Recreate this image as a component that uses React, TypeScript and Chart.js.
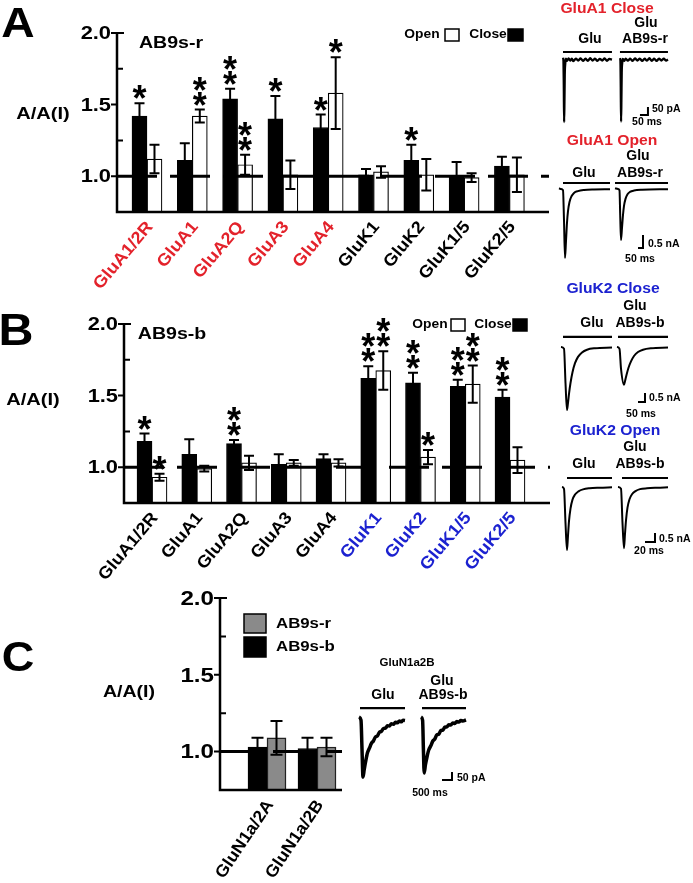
import React, { useEffect, useRef } from 'react';
import { Chart, registerables } from 'chart.js';

Chart.register(...registerables);

const PAGE_W = 693;
const PAGE_H = 883;
const FONT = '"Liberation Sans", Arial, Helvetica, sans-serif';
const RED = '#e3222b';
const BLUE = '#1c22d0';

// ---------------- data ----------------
const RECEPTORS = ['GluA1/2R', 'GluA1', 'GluA2Q', 'GluA3', 'GluA4', 'GluK1', 'GluK2', 'GluK1/5', 'GluK2/5'];
const Y_TICK_VALUES = [1.0, 1.5, 2.0];
const Y_TICK_LABELS = ['1.0', '1.5', '2.0'];
const Y_MINOR_TICKS = [1.25, 1.75];

// Panel A : AB9s-r
const A_CLOSE = [1.42, 1.11, 1.54, 1.40, 1.34, 1.01, 1.11, 1.00, 1.07];
const A_CLOSE_SEM = [0.09, 0.12, 0.07, 0.16, 0.09, 0.04, 0.11, 0.10, 0.065];
const A_CLOSE_STARS = [1, 0, 2, 1, 1, 0, 1, 0, 0];
const A_OPEN = [1.12, 1.42, 1.08, 1.01, 1.58, 1.03, 1.01, 0.99, 1.01];
const A_OPEN_SEM = [0.10, 0.045, 0.07, 0.10, 0.25, 0.04, 0.11, 0.03, 0.12];
const A_OPEN_STARS = [0, 2, 2, 0, 1, 0, 0, 0, 0];

// Panel B : AB9s-b
const B_CLOSE = [1.18, 1.09, 1.165, 1.02, 1.06, 1.62, 1.59, 1.565, 1.49];
const B_CLOSE_SEM = [0.055, 0.105, 0.025, 0.07, 0.03, 0.085, 0.07, 0.045, 0.05];
const B_CLOSE_STARS = [1, 0, 2, 0, 0, 2, 2, 2, 2];
const B_OPEN = [0.93, 0.99, 1.03, 1.03, 1.03, 1.675, 1.07, 1.58, 1.05];
const B_OPEN_SEM = [0.025, 0.02, 0.05, 0.02, 0.025, 0.135, 0.05, 0.13, 0.09];
const B_OPEN_STARS = [1, 0, 0, 0, 0, 2, 1, 2, 0];

// Panel C : NMDA receptors
const C_RECEPTORS = ['GluN1a/2A', 'GluN1a/2B'];
const C_AB9S_B = [1.03, 1.02];
const C_AB9S_B_SEM = [0.06, 0.07];
const C_AB9S_R = [1.09, 1.03];
const C_AB9S_R_SEM = [0.11, 0.06];

// ---------------- current traces (time ms, current) ----------------
// GluA1 Close (pA)
const TR_A1C_GLU = [[0, 14], [3, -8], [5, -160], [7, -388], [9, -260], [11, -90], [14, -25], [18, 8], [25, -6], [35, 10], [45, -4], [55, 8], [65, -7], [80, 9], [95, -3], [110, 10], [125, -6], [140, 8], [155, -5], [170, 11], [185, -4], [200, 9], [215, -6], [230, 7], [245, -3], [260, 10], [275, -5], [290, 7], [306, 2]];
const TR_A1C_AB9S = [[356, 12], [359, -6], [361, -170], [363, -385], [365, -250], [367, -80], [370, -20], [374, 7], [382, -6], [392, 9], [405, -4], [420, 8], [435, -6], [450, 10], [465, -3], [480, 9], [495, -6], [510, 8], [525, -4], [540, 11], [555, -5], [570, 8], [585, -6], [600, 9], [615, -3], [630, 8], [645, -4], [656, 3]];
const STIM_A1C = [[[0, 50], [306, 50]], [[356, 50], [656, 50]]];
const SCALE_A1C = [[481, -344], [531, -344], [531, -294]];

// GluA1 Open (nA)
const TR_A1O_GLU = [[-30, 0.03], [-10, 0.0], [10, -0.05], [20, -1.2], [30, -2.65], [40, -2.0], [50, -1.3], [60, -0.85], [75, -0.5], [95, -0.28], [120, -0.15], [160, -0.08], [220, -0.04], [320, -0.02], [480, -0.01]];
const TR_A1O_AB9S = [[530, 0.03], [560, 0.0], [575, -0.05], [582, -1.0], [590, -1.96], [600, -1.5], [610, -1.0], [620, -0.65], [635, -0.38], [655, -0.2], [680, -0.11], [720, -0.06], [800, -0.03], [1060, -0.01]];
const STIM_A1O = [[[10, 0.23], [480, 0.23]], [[530, 0.23], [1060, 0.23]]];
const SCALE_A1O = [[760, -2.27], [810, -2.27], [810, -1.77]];

// GluK2 Close (nA)
const TR_K2C_GLU = [[-20, 0.0], [10, -0.1], [25, -2.0], [40, -3.5], [50, -3.1], [60, -2.6], [75, -2.0], [95, -1.4], [120, -0.9], [150, -0.55], [190, -0.3], [240, -0.15], [320, -0.07], [490, -0.03]];
const TR_K2C_AB9S = [[540, 0.0], [565, -0.1], [580, -1.2], [610, -2.1], [620, -1.9], [635, -1.55], [655, -1.15], [680, -0.8], [710, -0.5], [750, -0.28], [800, -0.15], [880, -0.07], [1050, -0.03]];
const STIM_K2C = [[[0, 0.56], [490, 0.56]], [[550, 0.56], [1050, 0.56]]];
const SCALE_K2C = [[750, -3.06], [820, -3.06], [820, -2.56]];

// GluK2 Open (nA)
const TR_K2O_GLU = [[0, 0.0], [4, -0.1], [7, -2.0], [10, -3.5], [12, -2.7], [14, -1.9], [17, -1.2], [21, -0.7], [26, -0.42], [33, -0.24], [42, -0.13], [55, -0.07], [75, -0.04], [100, -0.02]];
const TR_K2O_AB9S = [[112, 0.0], [118, -0.1], [121, -2.0], [124, -3.4], [126, -2.6], [128, -1.85], [131, -1.15], [135, -0.68], [140, -0.4], [147, -0.23], [156, -0.12], [170, -0.07], [190, -0.04], [212, -0.02]];
const STIM_K2O = [[[10, 0.5], [100, 0.5]], [[120, 0.5], [212, 0.5]]];
const SCALE_K2O = [[166, -3.06], [186, -3.06], [186, -2.56]];

// GluN1a2B (pA)
const TR_N2B_GLU = [[0, 0], [100, -20], [150, -200], [200, -375], [260, -330], [330, -280], [420, -225], [520, -195], [620, -165], [720, -150], [820, -125], [920, -118], [1020, -95], [1120, -90], [1220, -72], [1320, -70], [1420, -55], [1520, -56], [1620, -42], [1720, -46], [1820, -33], [1920, -36], [2020, -25], [2120, -30], [2200, -20], [2300, -22]];
const TR_N2B_AB9S = [[3100, 0], [3180, -20], [3220, -200], [3260, -350], [3320, -300], [3400, -250], [3490, -205], [3590, -180], [3690, -150], [3790, -138], [3890, -112], [3990, -108], [4090, -85], [4190, -82], [4290, -64], [4390, -62], [4490, -48], [4590, -50], [4690, -38], [4790, -40], [4890, -28], [4990, -32], [5090, -22], [5190, -25], [5350, -18]];
const STIM_N2B = [[[50, 56], [2300, 56]], [[3150, 56], [5350, 56]]];
const SCALE_N2B = [[4150, -394], [4650, -394], [4650, -344]];

// ---------------- drawing helpers ----------------
function stretchText(ctx: any, text: string, x: number, y: number, font: string, sx: number, align: string, color: string) {
  ctx.save();
  ctx.font = font;
  ctx.fillStyle = color;
  ctx.textAlign = align;
  ctx.textBaseline = 'middle';
  ctx.translate(x, y);
  ctx.scale(sx, 1);
  ctx.fillText(text, 0, 0);
  ctx.restore();
}

function drawStar(ctx: any, x: number, y: number) {
  ctx.save();
  ctx.font = `bold 36px ${FONT}`;
  ctx.fillStyle = '#000';
  ctx.textAlign = 'center';
  ctx.textBaseline = 'alphabetic';
  const m = ctx.measureText('*');
  const a = m.actualBoundingBoxAscent;
  const d = m.actualBoundingBoxDescent;
  ctx.fillText('*', x, y + (a - d) / 2);
  ctx.restore();
}

const panelPlugin = {
  id: 'panel',
  afterDatasetsDraw(chart: any, _args: any, o: any) {
    const { ctx, chartArea: ca } = chart;
    const xs = chart.scales.x;
    const ys = chart.scales.y;
    ctx.save();
    // dashed reference line at 1.0
    const y1 = ys.getPixelForValue(1);
    ctx.strokeStyle = '#000';
    ctx.lineWidth = 3;
    ctx.setLineDash([40, 13]);
    ctx.beginPath();
    ctx.moveTo(ca.left, y1);
    ctx.lineTo(ca.right, y1);
    ctx.stroke();
    ctx.setLineDash([]);

    // error bars and significance stars
    chart.data.datasets.forEach((ds: any, di: number) => {
      const meta = chart.getDatasetMeta(di);
      meta.data.forEach((el: any, i: number) => {
        const v = ds.data[i].y;
        const e = ds.sem[i];
        const cx = el.x;
        const top = ys.getPixelForValue(v + e);
        const bot = ys.getPixelForValue(v - e);
        ctx.strokeStyle = '#000';
        ctx.lineWidth = 2;
        ctx.beginPath();
        ctx.moveTo(cx, top);
        ctx.lineTo(cx, bot);
        ctx.moveTo(cx - o.cap / 2, top);
        ctx.lineTo(cx + o.cap / 2, top);
        ctx.moveTo(cx - o.cap / 2, bot);
        ctx.lineTo(cx + o.cap / 2, bot);
        ctx.stroke();
        const n = ds.stars ? ds.stars[i] : 0;
        for (let k = 0; k < n; k++) drawStar(ctx, cx, top - 11 - 15 * k);
      });
    });

    // axes
    ctx.strokeStyle = '#000';
    ctx.lineWidth = 2.5;
    ctx.beginPath();
    ctx.moveTo(ca.left, ca.top);
    ctx.lineTo(ca.left, ca.bottom);
    ctx.lineTo(ca.right, ca.bottom);
    ctx.stroke();
    ctx.lineWidth = 2;
    ctx.beginPath();
    Y_TICK_VALUES.forEach((t) => {
      const py = ys.getPixelForValue(t);
      ctx.moveTo(ca.left - 6, py);
      ctx.lineTo(ca.left, py);
    });
    Y_MINOR_TICKS.forEach((t) => {
      const py = ys.getPixelForValue(t);
      ctx.moveTo(ca.left, py);
      ctx.lineTo(ca.left + 6, py);
    });
    const pTop = ys.getPixelForValue(2);
    ctx.moveTo(ca.left, pTop);
    ctx.lineTo(ca.left + 7, pTop);
    ctx.stroke();

    // y tick labels
    Y_TICK_VALUES.forEach((t, i) => {
      stretchText(ctx, Y_TICK_LABELS[i], ca.left - 6, ys.getPixelForValue(t) + 1, o.tickFont, o.tickSx, 'right', '#000');
    });

    // category labels
    o.labels.forEach((lab: string, i: number) => {
      const px = xs.getPixelForValue(i);
      ctx.save();
      ctx.translate(px + o.ldx, ca.bottom + o.ldy);
      ctx.rotate((-o.angle * Math.PI) / 180);
      ctx.font = o.labelFont;
      ctx.fillStyle = o.labelColors[i];
      ctx.textAlign = 'right';
      ctx.textBaseline = 'middle';
      ctx.scale(o.labelSx, 1);
      ctx.fillText(lab, 0, 0);
      ctx.restore();
    });

    // inner title
    if (o.title) stretchText(ctx, o.title.text, o.title.x, o.title.y, o.title.font, o.title.sx, 'center', '#000');

    // legend
    o.legend.forEach((it: any) => {
      const ds = chart.data.datasets[it.ds];
      const [bx, by, bw, bh] = it.box;
      ctx.fillStyle = ds.backgroundColor;
      ctx.fillRect(bx, by, bw, bh);
      ctx.strokeStyle = '#000';
      ctx.lineWidth = 1.5;
      ctx.strokeRect(bx, by, bw, bh);
      stretchText(ctx, ds.label, it.tx, it.ty, o.legendFont, o.legendSx, it.align, '#000');
    });
    ctx.restore();
  },
};

function barConfig(p: any) {
  return {
    type: 'bar',
    data: {
      datasets: p.series.map((s: any) => ({
        label: s.label,
        data: s.values.map((y: number, i: number) => ({ x: i, y })),
        sem: s.sem,
        stars: s.stars,
        backgroundColor: s.fill,
        borderColor: s.stroke,
        borderWidth: s.bw,
        barThickness: p.barW,
      })),
    },
    options: {
      responsive: false,
      animation: false,
      events: [],
      layout: { padding: { left: p.area.left, right: PAGE_W - p.area.right, top: p.area.top, bottom: PAGE_H - p.area.bottom } },
      scales: {
        x: { type: 'linear', offset: false, min: p.xRange[0], max: p.xRange[1], display: false },
        y: { type: 'linear', min: 0.75, max: 2.0, display: false },
      },
      plugins: {
        legend: { display: false },
        tooltip: { enabled: false },
        panel: p.decor,
      },
    },
    plugins: [panelPlugin],
  };
}

const PANEL_A = {
  area: { left: 117, right: 549, top: 33, bottom: 212 },
  xRange: [-0.662, 8.874],
  barW: 15,
  series: [
    { label: 'Close', values: A_CLOSE, sem: A_CLOSE_SEM, stars: A_CLOSE_STARS, fill: '#000', stroke: '#000', bw: 1 },
    { label: 'Open', values: A_OPEN, sem: A_OPEN_SEM, stars: A_OPEN_STARS, fill: '#fff', stroke: '#000', bw: 1.2 },
  ],
  decor: {
    cap: 10,
    tickFont: `bold 19px ${FONT}`,
    tickSx: 1.15,
    labels: RECEPTORS,
    labelColors: [RED, RED, RED, RED, RED, '#000', '#000', '#000', '#000'],
    labelFont: `bold 17px ${FONT}`,
    labelSx: 1.08,
    angle: 50,
    ldx: 3,
    ldy: 12,
    title: { text: 'AB9s-r', x: 171, y: 43, font: `bold 17px ${FONT}`, sx: 1.15 },
    legendFont: `bold 12px ${FONT}`,
    legendSx: 1.15,
    legend: [
      { ds: 1, tx: 422, ty: 35, align: 'center', box: [445, 29, 14, 12] },
      { ds: 0, tx: 488, ty: 35, align: 'center', box: [508, 29, 15, 12] },
    ],
  },
};

const PANEL_B = {
  area: { left: 124, right: 550, top: 324, bottom: 503 },
  xRange: [-0.626, 8.894],
  barW: 15,
  series: [
    { label: 'Close', values: B_CLOSE, sem: B_CLOSE_SEM, stars: B_CLOSE_STARS, fill: '#000', stroke: '#000', bw: 1 },
    { label: 'Open', values: B_OPEN, sem: B_OPEN_SEM, stars: B_OPEN_STARS, fill: '#fff', stroke: '#000', bw: 1.2 },
  ],
  decor: {
    cap: 10,
    tickFont: `bold 19px ${FONT}`,
    tickSx: 1.15,
    labels: RECEPTORS,
    labelColors: ['#000', '#000', '#000', '#000', '#000', BLUE, BLUE, BLUE, BLUE],
    labelFont: `bold 17px ${FONT}`,
    labelSx: 1.08,
    angle: 50,
    ldx: 3,
    ldy: 12,
    title: { text: 'AB9s-b', x: 172, y: 334, font: `bold 17px ${FONT}`, sx: 1.15 },
    legendFont: `bold 12px ${FONT}`,
    legendSx: 1.15,
    legend: [
      { ds: 1, tx: 430, ty: 325, align: 'center', box: [451, 319, 14, 12] },
      { ds: 0, tx: 493, ty: 325, align: 'center', box: [513, 319, 14, 12] },
    ],
  },
};

const PANEL_C = {
  area: { left: 220, right: 342, top: 598, bottom: 790 },
  xRange: [-0.94, 1.5],
  barW: 19,
  series: [
    { label: 'AB9s-b', values: C_AB9S_B, sem: C_AB9S_B_SEM, stars: null, fill: '#000', stroke: '#000', bw: 1 },
    { label: 'AB9s-r', values: C_AB9S_R, sem: C_AB9S_R_SEM, stars: null, fill: '#8a8a8a', stroke: '#222', bw: 1.5 },
  ],
  decor: {
    cap: 12,
    tickFont: `bold 21px ${FONT}`,
    tickSx: 1.15,
    labels: C_RECEPTORS,
    labelColors: ['#000', '#000'],
    labelFont: `bold 17px ${FONT}`,
    labelSx: 1.05,
    angle: 56,
    ldx: 3,
    ldy: 12,
    title: null,
    legendFont: `bold 15px ${FONT}`,
    legendSx: 1.12,
    legend: [
      { ds: 1, tx: 276, ty: 624, align: 'left', box: [244, 614, 22, 19] },
      { ds: 0, tx: 276, ty: 647, align: 'left', box: [244, 637, 22, 20] },
    ],
  },
};

// trace groups: box = plot area in page px, origin = page px of (t=0, I=0), scale = px per unit
const TRACE_GROUPS = [
  { box: [555, 44, 135, 86], origin: [563, 60], scale: [0.16, 0.16], traces: [TR_A1C_GLU, TR_A1C_AB9S], stim: STIM_A1C, bar: SCALE_A1C, lw: 2.3 },
  { box: [555, 176, 135, 88], origin: [562, 189], scale: [0.1, 26], traces: [TR_A1O_GLU, TR_A1O_AB9S], stim: STIM_A1O, bar: SCALE_A1O, lw: 2 },
  { box: [555, 330, 135, 86], origin: [563, 347], scale: [0.1, 18], traces: [TR_K2C_GLU, TR_K2C_AB9S], stim: STIM_K2C, bar: SCALE_K2C, lw: 2 },
  { box: [555, 470, 135, 86], origin: [562, 487], scale: [0.5, 18], traces: [TR_K2O_GLU, TR_K2O_AB9S], stim: STIM_K2O, bar: SCALE_K2O, lw: 2 },
  { box: [350, 700, 130, 88], origin: [359, 717], scale: [0.02, 0.16], traces: [TR_N2B_GLU, TR_N2B_AB9S], stim: STIM_N2B, bar: SCALE_N2B, lw: 3.5 },
];

function traceConfig(g: any) {
  const [L, T, Wd, Ht] = g.box;
  const [x0, y0] = g.origin;
  const [sx, sy] = g.scale;
  const toPts = (arr: number[][]) => arr.map(([x, y]) => ({ x, y }));
  const line = (arr: number[][], w: number, smooth: boolean) => ({
    data: toPts(arr),
    showLine: true,
    pointRadius: 0,
    borderColor: '#000',
    borderWidth: w,
    tension: 0,
    cubicInterpolationMode: smooth ? 'monotone' : 'default',
    clip: false,
  });
  return {
    type: 'scatter',
    data: {
      datasets: [
        ...g.traces.map((t: number[][]) => line(t, g.lw, true)),
        ...g.stim.map((s: number[][]) => line(s, 2.2, false)),
        line(g.bar, 2, false),
      ],
    },
    options: {
      responsive: false,
      animation: false,
      events: [],
      layout: { padding: { left: L, top: T, right: PAGE_W - L - Wd, bottom: PAGE_H - T - Ht } },
      scales: {
        x: { type: 'linear', offset: false, min: (L - x0) / sx, max: (L + Wd - x0) / sx, display: false },
        y: { type: 'linear', min: (y0 - T - Ht) / sy, max: (y0 - T) / sy, display: false },
      },
      plugins: { legend: { display: false }, tooltip: { enabled: false } },
    },
  };
}

function ChartCanvas({ config }: { config: any }) {
  const ref = useRef<HTMLCanvasElement | null>(null);
  useEffect(() => {
    if (!ref.current) return;
    const chart = new Chart(ref.current, config);
    return () => chart.destroy();
  }, [config]);
  return <canvas ref={ref} width={PAGE_W} height={PAGE_H} style={{ position: 'absolute', left: 0, top: 0, width: PAGE_W, height: PAGE_H }} />;
}

const TEXTS = [
  { s: 'A', x: 18, y: 23, size: 42, sx: 1.1 },
  { s: 'B', x: 16, y: 330, size: 44, sx: 1.1 },
  { s: 'C', x: 18, y: 656, size: 43, sx: 1.05 },
  { s: 'A/A(I)', x: 43, y: 113, size: 17, sx: 1.18 },
  { s: 'A/A(I)', x: 33, y: 399, size: 17, sx: 1.18 },
  { s: 'A/A(I)', x: 129, y: 691, size: 17, sx: 1.15 },
  // GluA1 close
  { s: 'GluA1 Close', x: 607, y: 8, size: 14, sx: 1.12, color: RED },
  { s: 'Glu', x: 646, y: 22, size: 14 },
  { s: 'Glu', x: 590, y: 38, size: 14 },
  { s: 'AB9s-r', x: 645, y: 38, size: 14 },
  { s: '50 pA', x: 652, y: 108, size: 10.5, align: 'left' },
  { s: '50 ms', x: 647, y: 121, size: 10.5 },
  // GluA1 open
  { s: 'GluA1 Open', x: 612, y: 140, size: 14, sx: 1.12, color: RED },
  { s: 'Glu', x: 638, y: 155, size: 14 },
  { s: 'Glu', x: 584, y: 172, size: 14 },
  { s: 'AB9s-r', x: 640, y: 172, size: 14 },
  { s: '0.5 nA', x: 648, y: 243, size: 10.5, align: 'left' },
  { s: '50 ms', x: 640, y: 258, size: 10.5 },
  // GluK2 close
  { s: 'GluK2 Close', x: 613, y: 288, size: 14, sx: 1.12, color: BLUE },
  { s: 'Glu', x: 635, y: 305, size: 14 },
  { s: 'Glu', x: 592, y: 322, size: 14 },
  { s: 'AB9s-b', x: 640, y: 322, size: 14 },
  { s: '0.5 nA', x: 649, y: 397, size: 10.5, align: 'left' },
  { s: '50 ms', x: 641, y: 413, size: 10.5 },
  // GluK2 open
  { s: 'GluK2 Open', x: 615, y: 430, size: 14, sx: 1.12, color: BLUE },
  { s: 'Glu', x: 635, y: 446, size: 14 },
  { s: 'Glu', x: 584, y: 463, size: 14 },
  { s: 'AB9s-b', x: 640, y: 463, size: 14 },
  { s: '0.5 nA', x: 659, y: 538, size: 10.5, align: 'left' },
  { s: '20 ms', x: 649, y: 550, size: 10.5 },
  // GluN1a2B
  { s: 'GluN1a2B', x: 407, y: 663, size: 11.5 },
  { s: 'Glu', x: 442, y: 680, size: 14 },
  { s: 'Glu', x: 383, y: 694, size: 14 },
  { s: 'AB9s-b', x: 443, y: 694, size: 14 },
  { s: '50 pA', x: 457, y: 777, size: 10.5, align: 'left' },
  { s: '500 ms', x: 430, y: 792, size: 10.5 },
];

function Label({ t }: { t: any }) {
  const left = t.align === 'left';
  return (
    <div
      style={{
        position: 'absolute',
        left: t.x,
        top: t.y,
        transform: `translate(${left ? '0' : '-50%'}, -50%) scaleX(${t.sx || 1})`,
        transformOrigin: left ? 'left center' : 'center center',
        font: `bold ${t.size}px ${FONT}`,
        color: t.color || '#000',
        whiteSpace: 'nowrap',
        lineHeight: 1,
      }}
    >
      {t.s}
    </div>
  );
}

const CONFIGS = [barConfig(PANEL_A), barConfig(PANEL_B), barConfig(PANEL_C), ...TRACE_GROUPS.map(traceConfig)];

export default function App() {
  return (
    <div style={{ position: 'absolute', left: 0, top: 0, width: PAGE_W, height: PAGE_H, overflow: 'hidden', background: '#fff' }}>
      {CONFIGS.map((c, i) => (
        <ChartCanvas key={i} config={c} />
      ))}
      {TEXTS.map((t, i) => (
        <Label key={i} t={t} />
      ))}
    </div>
  );
}
